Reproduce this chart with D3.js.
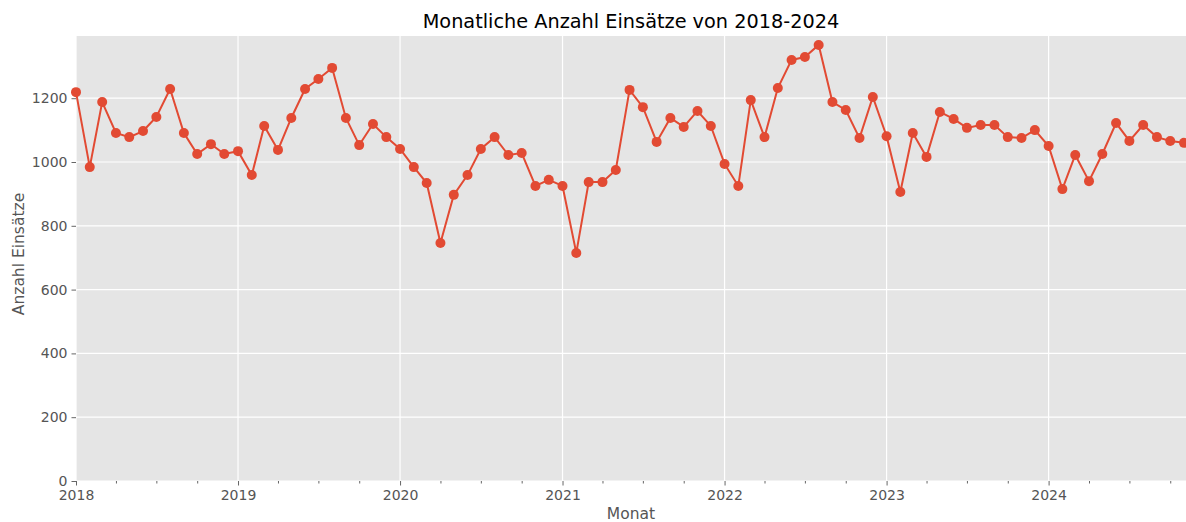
<!DOCTYPE html>
<html>
<head>
<meta charset="utf-8">
<script src="https://cdnjs.cloudflare.com/ajax/libs/d3/7.8.5/d3.min.js"></script>
<style>
  body { margin: 0; background: #fff; }
  svg { font-family: "DejaVu Sans", sans-serif; }
</style>
</head>
<body>
<script>
// first month of the series and the monthly values
var startYear = 2018;
var startMonth = 0;
var values = [
  1219, 984, 1188, 1091, 1078, 1097, 1141, 1229, 1091, 1025, 1056, 1025,
  1034, 959, 1113, 1038, 1138, 1229, 1260, 1295, 1138, 1053, 1119, 1078,
  1041, 984, 934, 746, 897, 959, 1041, 1078, 1022, 1028, 925, 944,
  925, 715, 937, 937, 975, 1226, 1172, 1063, 1138, 1110, 1160, 1113,
  994, 925, 1194, 1078, 1232, 1320, 1329, 1367, 1188, 1163, 1075, 1204,
  1081, 906, 1091, 1016, 1157, 1135, 1107, 1116, 1116, 1078, 1075, 1100,
  1050, 915, 1022, 940, 1025, 1122, 1066, 1116, 1078, 1066, 1060
];
var yTicks = [0, 200, 400, 600, 800, 1000, 1200];
var yearTicks = [2018, 2019, 2020, 2021, 2022, 2023, 2024];

// combine the month dates with the values
var data = values.map(function(v, i) {
  return { date: new Date(startYear, startMonth + i, 1), value: v };
});

// size and padding of the plot area
var w = 1186;
var h = 522;
var plotLeft = 76;
var plotRight = 1186;
var plotTop = 36;
var plotBottom = 481;

var svg = d3.select("body")
  .append("svg")
  .attr("width", w)
  .attr("height", h);

// scales
var xScale = d3.scaleTime()
  .domain([data[0].date, data[data.length - 1].date])
  .range([plotLeft, 1184]);

var yScale = d3.scaleLinear()
  .domain([0, 1395])
  .range([plotBottom, plotTop]);

// plot background
svg.append("rect")
  .attr("x", plotLeft)
  .attr("y", plotTop)
  .attr("width", plotRight - plotLeft)
  .attr("height", plotBottom - plotTop)
  .attr("fill", "#e5e5e5");

// grid lines
var yearDates = yearTicks.map(function(y) { return new Date(y, 0, 1); });

svg.append("g")
  .selectAll("line")
  .data(yearDates)
  .enter()
  .append("line")
  .attr("x1", function(d) { return xScale(d); })
  .attr("x2", function(d) { return xScale(d); })
  .attr("y1", plotTop)
  .attr("y2", plotBottom)
  .attr("stroke", "#fff")
  .attr("stroke-width", 1.2);

svg.append("g")
  .selectAll("line")
  .data(yTicks)
  .enter()
  .append("line")
  .attr("x1", plotLeft)
  .attr("x2", plotRight)
  .attr("y1", function(d) { return yScale(d); })
  .attr("y2", function(d) { return yScale(d); })
  .attr("stroke", "#fff")
  .attr("stroke-width", 1.2);

// x axis with yearly major ticks
var xAxis = d3.axisBottom(xScale)
  .tickValues(yearDates)
  .tickFormat(d3.timeFormat("%Y"))
  .tickSize(4.5)
  .tickPadding(5);

var gx = svg.append("g")
  .attr("transform", "translate(0," + plotBottom + ")")
  .call(xAxis);

// quarterly minor ticks
var minorDates = d3.timeMonth.every(3).range(new Date(2018, 0, 1), new Date(2024, 11, 1))
  .filter(function(d) { return d.getMonth() !== 0; });

var gxMinor = svg.append("g")
  .attr("transform", "translate(0," + plotBottom + ")")
  .call(d3.axisBottom(xScale).tickValues(minorDates).tickSize(2.5).tickFormat(""));

// y axis
var yAxis = d3.axisLeft(yScale)
  .tickValues(yTicks)
  .tickFormat(d3.format("d"))
  .tickSize(4.5)
  .tickPadding(4);

var gy = svg.append("g")
  .attr("transform", "translate(" + plotLeft + ",0)")
  .call(yAxis);

[gx, gxMinor, gy].forEach(function(g) {
  g.attr("font-size", null).attr("font-family", null);
  g.select(".domain").remove();
  g.selectAll(".tick line").attr("stroke", "#555").attr("stroke-width", 0.9);
  g.selectAll(".tick text")
    .attr("fill", "#555")
    .style("font-size", "14px");
});

// line and markers
var line = d3.line()
  .x(function(d) { return xScale(d.date); })
  .y(function(d) { return yScale(d.value); });

svg.append("path")
  .datum(data)
  .attr("d", line)
  .attr("fill", "none")
  .attr("stroke", "#e24a33")
  .attr("stroke-width", 2);

svg.append("g")
  .selectAll("circle")
  .data(data)
  .enter()
  .append("circle")
  .attr("cx", function(d) { return xScale(d.date); })
  .attr("cy", function(d) { return yScale(d.value); })
  .attr("r", 5)
  .attr("fill", "#e24a33");

// title
svg.append("text")
  .attr("x", (plotLeft + plotRight) / 2)
  .attr("y", 28)
  .attr("text-anchor", "middle")
  .style("font-size", "19.3px")
  .attr("fill", "#000")
  .text("Monatliche Anzahl Einsätze von 2018-2024");

// x label
svg.append("text")
  .attr("x", (plotLeft + plotRight) / 2)
  .attr("y", 519)
  .attr("text-anchor", "middle")
  .style("font-size", "15.5px")
  .attr("fill", "#555")
  .text("Monat");

// y label
svg.append("text")
  .attr("transform", "translate(24,254) rotate(-90)")
  .attr("text-anchor", "middle")
  .style("font-size", "15.5px")
  .attr("fill", "#555")
  .text("Anzahl Einsätze");
</script>
</body>
</html>
